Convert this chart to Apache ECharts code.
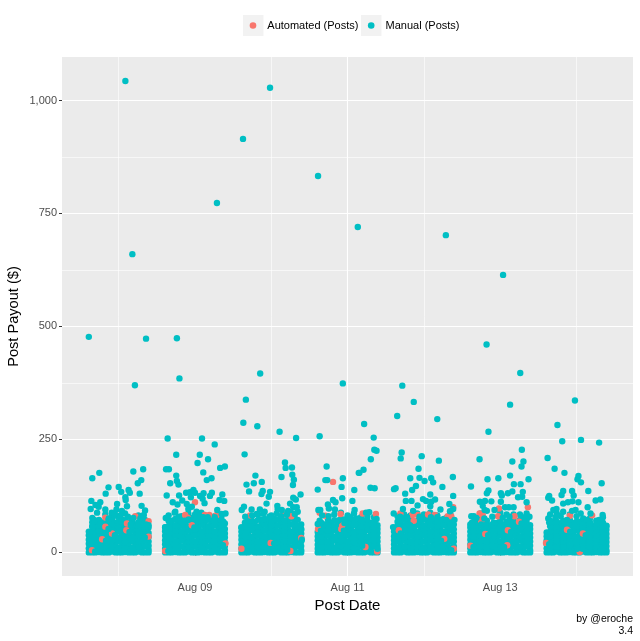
<!DOCTYPE html>
<html><head><meta charset="utf-8">
<style>html,body{margin:0;padding:0;background:#fff}#c{width:640px;height:641px}</style>
<script src="https://cdn.jsdelivr.net/npm/echarts@6/dist/echarts.min.js"></script>
</head><body><div id="c"></div>
<script>
// Points are [hours from that date's tick, payout $]; dense masses are [hours, [payouts]] columns.
const days = [8, 9, 10, 11, 12, 13, 14];
const labelledDays = [9, 11, 13];
const unlabelledDays = [8, 10, 12, 14];
const majorPayouts = [0, 250, 500, 750, 1000];
const minorPayouts = [125, 375, 625, 875];

const massAug08 = [[-9.4,[0,9,19,28,38,46]],[-7.3,[0,5,14,24,33,43,52,60,68]],[-5.2,[0,9,18,28,37,47,55,64]],[-3.1,[0,5,15,24,34,43,52,62,70]],[-1,[0,10,19,29,38,48,56,66]],[1,[0,5,14,24,33,43,53,61,73]],[3.1,[0,9,19,28,38,47,57,66]],[5.2,[0,5,15,25,34,44,53,62]],[7.3,[0,10,19,29,39,48,58,70]],[9.4,[0,6,15,24,34,43,55]]];
const massAug09 = [[-9.4,[0,8,18,27,37,47,56]],[-7.3,[0,5,14,23,33,42,52,61,70]],[-5.2,[0,10,19,29,38,48,57,66]],[-3.1,[0,6,15,25,34,44,54,63,72]],[-1,[0,9,18,28,38,47,56,65,76]],[1,[0,5,14,24,34,43,53,62,72]],[3.1,[0,10,19,29,39,48,58,68]],[5.2,[0,5,15,24,33,43,52,62,71]],[7.3,[0,9,18,27,37,47,56,66,74]],[9.4,[0,5,14,23,33,42,52,64]]];
const massAug10 = [[-9.4,[0,9,18,28,37,46,55]],[-7.3,[0,5,15,24,34,43,53,63,72]],[-5.2,[0,10,19,28,38,48,57,67]],[-3.1,[0,5,14,24,33,43,52,62,73]],[-1,[0,9,19,29,38,47,57,68]],[1,[0,5,15,25,34,44,53,62,74]],[3.1,[0,10,20,29,39,48,58,67,76]],[5.2,[0,6,15,24,33,43,53,63,72]],[7.3,[0,9,18,28,38,47,56,66,78]],[9.4,[0,5,14,24,33,42,52,62]]];
const massAug11 = [[-9.4,[0,8,17,27,36,45]],[-7.3,[0,5,14,24,33,43,52,62]],[-5.2,[0,10,19,28,38,47,57,66]],[-3.1,[0,5,15,24,34,43,53,62,70]],[-1,[0,9,19,28,38,48,57,66,73]],[1,[0,5,14,24,34,43,53,63,75]],[3.1,[0,10,19,29,38,48,58,67]],[5.2,[0,5,15,25,34,44,53,62,70]],[7.3,[0,9,19,28,38,47,57,65]],[9.4,[0,6,15,24,33,43,52,60]]];
const massAug12 = [[-9.4,[0,9,18,27,36,46,54]],[-7.3,[0,5,14,24,33,43,53,62,70]],[-5.2,[0,9,19,28,38,47,56,66,76]],[-3.1,[0,5,14,24,34,44,53,62,70]],[-1,[0,10,19,28,38,47,57,67,74]],[1,[0,5,15,24,33,43,52,62,71]],[3.1,[0,9,18,28,37,47,56,66,75]],[5.2,[0,6,15,25,34,44,53,62,72]],[7.3,[0,9,19,29,38,48,57,67,78]],[9.4,[0,5,14,24,33,42,51,62]]];
const massAug13 = [[-9.4,[0,9,18,28,37,46,55,62]],[-7.3,[0,5,15,24,33,43,52,61,69]],[-5.2,[0,10,19,29,38,47,56,65]],[-3.1,[0,5,14,24,33,42,51,60]],[-1,[0,9,18,27,37,46,55,65]],[1,[0,5,15,24,34,43,53,62]],[3.1,[0,9,19,28,37,47,56,64,71]],[5.2,[0,5,14,24,33,43,52,60]],[7.3,[0,10,19,29,38,47,57,66,74]],[9.4,[0,5,15,24,33,42,52,60]]];
const massAug14 = [[-9.4,[0,9,18,27,36,44]],[-7.3,[0,5,14,23,33,42,51,60,68]],[-5.2,[0,9,19,28,37,46,55,64]],[-3.1,[0,5,14,24,33,42,52,61,69]],[-1,[0,10,19,29,38,47,57,65]],[1,[0,5,15,24,34,43,52,60,68]],[3.1,[0,9,18,28,37,46,55,63]],[5.2,[0,5,14,24,33,42,50,58]],[7.3,[0,9,19,28,38,47,54,63]],[9.4,[0,5,14,23,32,41,50,58]]];

const overAug08 = [[-8.3,[0,11,23,34,46,57,67,76]],[-6.2,[1,13,25,37,48,59,72]],[-4.2,[0,12,22,35,45,58,66,84]],[-2.1,[2,14,26,38,50,61,73,80]],[0,[0,10,24,33,47,56,68,78]],[2,[1,13,23,36,46,60,71,86]],[4.2,[0,11,25,35,49,58,69]],[6.2,[2,12,24,37,47,59,67,82]],[8.3,[0,14,26,36,48,57,72]]];
const overAug09 = [[-8.3,[0,12,24,35,47,58,70,82]],[-6.2,[1,11,23,37,49,60,74,90]],[-4.2,[0,13,26,36,46,59,68,80]],[-2.1,[2,12,25,34,48,57,71,86,96]],[0,[0,14,24,38,50,62,74,84]],[2,[1,11,23,35,47,61,70,88]],[4.2,[0,13,26,37,49,58,72]],[6.2,[2,12,24,36,46,60,69,80]],[8.3,[0,14,25,38,50,59,73,80]]];
const overAug10 = [[-8.3,[0,11,23,36,47,58,66]],[-6.2,[2,13,25,34,49,60,70,79]],[-4.2,[0,12,24,37,46,57,72,84]],[-2.1,[1,14,26,35,48,61,74,90]],[0,[0,10,27,38,50,59,71,82]],[2,[2,13,23,34,47,60,73,96]],[4.2,[0,12,25,37,49,58,70,84]],[6.2,[1,11,24,36,46,62,75,88]],[8.3,[0,14,26,35,48,59,72,90]]];
const overAug11 = [[-8.3,[0,12,24,35,46,57,66]],[-6.2,[1,13,23,37,48,60,72]],[-4.2,[0,11,26,34,49,58,71,84]],[-2.1,[2,14,25,36,47,61,74,88]],[0,[0,12,24,38,50,59,70,82]],[2,[1,10,23,35,46,60,72,86]],[4.2,[0,13,26,37,48,57,68,78]],[6.2,[2,12,24,34,49,61,73,80]],[8.3,[0,14,25,36,47,58,68,78]]];
const overAug12 = [[-8.3,[0,11,24,36,47,59,68,80]],[-6.2,[2,13,26,34,48,60,73,84]],[-4.2,[0,12,23,37,49,58,71,82]],[-2.1,[1,14,25,35,46,61,70,86]],[0,[0,10,24,38,50,59,74,84]],[2,[2,13,26,34,47,60,72,88]],[4.2,[0,12,23,36,48,57,69,82]],[6.2,[1,14,25,37,46,61,74]],[8.3,[0,11,24,35,49,60,70,86]]];
const overAug13 = [[-8.3,[0,12,24,35,47,58,68,80]],[-6.2,[1,13,25,37,46,59,72,86]],[-4.2,[0,11,23,34,49,57,70,92]],[-2.1,[2,14,26,36,48,60,66]],[0,[0,12,24,38,46,58,70,88]],[2,[1,10,25,35,47,61,68,84]],[4.2,[0,13,23,37,50,59,70,84]],[6.2,[2,12,26,34,48,60,72,84]],[8.3,[0,14,24,36,47,58,70,86]]];
const overAug14 = [[-8.3,[0,11,23,35,46,58,70,84]],[-6.2,[2,13,25,36,48,57,68,86]],[-4.2,[0,12,24,34,47,59,70,90]],[-2.1,[1,14,26,37,46,60,72,84]],[0,[0,10,23,35,49,58,68,80]],[2,[2,13,25,36,47,57,66]],[4.2,[0,12,24,34,46,55,67,75]],[6.2,[1,14,26,37,48,58,70]],[8.3,[0,11,23,35,46,57,66,78]]];

const manualAug08 = [[2.1,1043],[4.3,660],[-9.4,477],[8.6,473],[5.1,370],[-8.3,164],[-6.1,176],[4.6,179],[7.7,184],[7.1,160],[6,153],[-3.2,144],[-4.1,130],[0,145],[.8,134],[3.1,138],[3.5,132],[6.6,130],[2.1,122],[2.2,116],[-8.6,114],[-7.3,105],[-5.8,111],[-8.8,96],[-6.8,88],[-6.3,101],[-4.2,95],[-.5,107],[-.7,95],[1,92],[2.6,102],[7.2,103],[8.3,93],[7.9,83],[2.9,79],[-1.8,79],[-3.1,75],[-7.7,72],[-8.3,58],[-5.8,68],[.5,82],[6.8,75],[9.4,60],[-2.2,88],[-1.2,85],[4.2,72],[-3.2,72],[3.8,62],[4.6,76],[8.6,62],[8.2,33],[-4,26],[-3.2,52],[3.4,45],[-1.2,38],[-7.4,2]];
const manualAug09 = [[-5.7,474],[-4.9,385],[6.9,773],[-8.6,252],[2.2,252],[6.2,239],[-5.9,216],[1.5,216],[.8,198],[4.1,206],[-9.1,184],[-8.2,184],[9.4,190],[7.9,187],[2.6,177],[-5.9,170],[-5.7,158],[-5.2,150],[-7.8,153],[3.7,160],[5.2,164],[-8.9,126],[-5,126],[-2.8,132],[-1.6,133],[-.5,138],[0,132],[-1.3,122],[1.6,125],[2.7,131],[2.4,119],[4.7,125],[5.3,132],[8.6,128],[7.7,116],[9.2,114],[-7,111],[-5.5,106],[-4,115],[-2.6,107],[-1,101],[3,109],[7,94],[-6.4,88],[-9.2,76],[-8,68],[-9.4,55],[-5.1,79],[.5,90],[1.6,79],[8.4,85],[9.6,86],[8.9,68],[-3.2,70],[-2,73],[2.6,78],[4,78],[6.2,78],[-.2,55],[-8.4,3],[8.8,16]];
const manualAug10 = [[-8.9,915],[-.4,1028],[-3.5,396],[-8,338],[-8.8,287],[-4.4,279],[2.6,267],[7.8,253],[-8.4,217],[4.3,199],[4.5,187],[6.5,188],[3.2,167],[6.6,172],[7.1,161],[6.8,149],[-5,170],[-7.8,150],[-5.5,153],[-3,156],[-7,135],[9.2,128],[-2.7,136],[-3.1,129],[-.4,134],[-.8,123],[6.9,121],[7.7,117],[-1.5,108],[-3.6,95],[-6.2,95],[-8.6,101],[-9.3,94],[1.9,103],[3.3,94],[5.9,108],[8,100],[6.9,100],[5.3,92],[-8.2,79],[-2.5,86],[-.6,79],[1.7,86],[-9.4,55],[-6,82],[-4.6,85],[3.1,80],[4.9,84],[7.4,85],[9.4,50],[.9,20],[9.6,28],[5,6]];
const manualAug11 = [[-9.3,833],[3.2,720],[-1.5,374],[-8.8,257],[-6.6,190],[-7,160],[-6.4,160],[-1.5,164],[-1.9,145],[3.5,176],[-9.4,139],[2.1,138],[-1.7,120],[1.5,114],[-4.6,116],[-3.8,111],[-6.2,106],[-9.2,94],[-8.6,94],[-5.9,97],[-4,95],[2.2,94],[.2,79],[-8.8,70],[-9.4,63],[5.2,284],[8.2,254],[8.4,227],[9.1,225],[7.3,206],[5,183],[3.7,176],[7.2,143],[8.5,142],[5.8,88],[6.8,89],[9.1,74],[8.1,66],[.7,77],[2.8,75],[4.5,70],[-6,80],[-3,70],[-1,65],[-8.4,48],[9.4,8],[-8,82],[-1.2,48],[4.6,15]];
const manualAug12 = [[-6.8,369],[-3.2,333],[-8.4,302],[4.2,295],[6.9,702],[-7,221],[-7.3,208],[-.7,213],[4.7,203],[-1.7,185],[9.1,167],[-4.3,164],[-1.4,165],[.2,158],[2.3,164],[2.9,155],[-2.5,147],[-3.7,138],[5.8,145],[-9.4,140],[-8.9,142],[-5.9,130],[2,128],[9.2,125],[-5.7,114],[-3.9,114],[-.3,118],[.7,114],[3.5,117],[2.3,112],[-2,104],[2,102],[8,107],[9.2,96],[-6.6,96],[5.2,95],[-3.4,92],[-9.5,86],[8.2,91],[-5.3,78],[-7.5,79],[-1.4,79],[7,72],[9.6,72],[-9.7,56],[-4.4,60],[-7.3,42],[4.2,78],[2.2,78],[5.4,26],[8.6,5]];
const manualAug13 = [[.9,614],[-4.3,460],[6.3,397],[3.1,327],[-3.7,267],[6.8,227],[-6.5,206],[3.8,201],[7.3,201],[6.7,190],[3.1,170],[-.6,164],[-4,162],[8.9,162],[4.3,151],[6.4,151],[-9.2,146],[-3.7,137],[-4.2,131],[.2,131],[.5,126],[2.4,131],[3.8,135],[7.1,134],[6.9,123],[5.6,122],[8.3,111],[-6.4,112],[-4.8,114],[-2.8,113],[.2,112],[1.5,100],[2.7,100],[4.2,100],[-5.5,103],[-4.9,94],[-1.8,94],[-9.1,80],[-2.5,79],[.8,77],[2.9,79],[8,79],[9.2,79],[-7.5,76],[-5,75],[-4.6,60],[-3.8,38],[6.7,64],[-8.9,66],[-6,62],[3.4,45],[1.2,12],[-8.4,12]];
const manualAug14 = [[-.5,336],[-6,282],[-4.5,246],[1.4,249],[7.1,243],[-9.1,209],[-6.9,185],[-3.8,176],[.6,169],[.3,162],[1.4,155],[7.9,153],[3.7,136],[-4.2,136],[-4.7,127],[-1.4,136],[-.9,126],[-8.6,125],[-8.9,121],[-7.7,115],[7.5,117],[6,115],[-4.2,108],[-2.7,111],[-1.3,113],[.6,111],[3.5,100],[-6.3,96],[-7.3,94],[-1.4,92],[-.3,94],[4.4,86],[8.2,83],[-8.9,75],[-8.6,66],[1.3,86],[2.1,75],[3.1,72],[7.1,72],[9.4,59],[-6.6,78],[-5,80],[-3,72],[4.2,63],[6.2,63],[-8.6,18],[1.9,8],[.2,8],[2.9,38],[-2,46]];

const autoAug08 = [[-4.2,77],[2.6,64],[5.2,80],[9.4,69],[9.4,35],[-5.2,29],[-4.2,57],[2.4,49],[-2.1,42],[-8.4,5]];
const autoAug09 = [[0,111],[-3.1,83],[-2.3,77],[3.1,83],[4.5,83],[6.8,83],[-1,60],[-9.4,3],[9.6,20]];
const autoAug10 = [[3.6,84],[6.3,80],[-6.7,82],[-.2,21],[9.4,32],[-9.4,8],[6,3]];
const autoAug11 = [[-4.6,156],[-2.2,85],[-7,81],[-8.8,88],[-9.3,52],[-1.7,60],[4.7,86],[8.9,85],[9.3,2],[-2,52],[5.6,12]];
const autoAug12 = [[9.2,100],[-7.4,86],[-3.7,83],[-1.9,83],[1.3,84],[3.4,83],[7.5,80],[8.6,80],[-3.2,70],[-7.9,49],[6.4,30],[9.4,8]];
const autoAug13 = [[-.4,97],[8.7,100],[-.7,80],[4.5,80],[-5.5,83],[-5.7,72],[-6.5,86],[-4.7,41],[5.9,68],[2.4,49],[2.2,16],[-6,68],[-9.4,15]];
const autoAug14 = [[-2.1,81],[4.9,82],[-9.6,21],[1,5],[1,1],[2,42],[-3,50]];

const massByDay = [massAug08, massAug09, massAug10, massAug11, massAug12, massAug13, massAug14];
const overByDay = [overAug08, overAug09, overAug10, overAug11, overAug12, overAug13, overAug14];
const manualByDay = [manualAug08, manualAug09, manualAug10, manualAug11, manualAug12, manualAug13, manualAug14];
const autoByDay = [autoAug08, autoAug09, autoAug10, autoAug11, autoAug12, autoAug13, autoAug14];

const seriesNames = ['Automated (Posts)', 'Manual (Posts)'];
const footerLines = ['by @eroche', '3.4'];
const xTitle = 'Post Date', yTitle = 'Post Payout ($)';

const FONT = '"Liberation Sans", Arial, sans-serif';
const RED = '#F8766D', TEAL = '#00BFC4';
const toXY = (d, p) => [days[d] + p[0] / 24, p[1]];
const colsToPoints = byDay => byDay.flatMap((cols, d) => cols.flatMap(c => c[1].map(v => toXY(d, [c[0], v]))));
const massPoints = colsToPoints(massByDay);
const overPoints = colsToPoints(overByDay);
const manualPoints = manualByDay.flatMap((a, d) => a.map(p => toXY(d, p)));
const autoPoints = autoByDay.flatMap((a, d) => a.map(p => toXY(d, p)));

const xMin = 7.257, xMax = 14.74, yMin = -52.2, yMax = 1096.2;
const hidden = {axisLine:{show:false}, axisTick:{show:false}, axisLabel:{show:false}};
const dot = (name, data, color, z) => ({type:'scatter', name, data, symbolSize:6.4, z,
  itemStyle:{color, opacity:1}, silent:true, large:false, animation:false});

const chart = echarts.init(document.getElementById('c'), null, {renderer:'canvas'});
chart.setOption({
  animation:false, backgroundColor:'#fff',
  textStyle:{fontFamily:FONT},
  grid:{left:62, right:7, top:57, bottom:65, show:true, backgroundColor:'#EBEBEB', borderWidth:0, containLabel:false, outerBoundsMode:'none'},
  xAxis:[
    {type:'value', min:xMin, max:xMax, position:'bottom', name:xTitle, nameLocation:'middle', nameGap:22,
     nameTextStyle:{fontSize:15, color:'#000', fontFamily:FONT},
     axisLine:{show:false},
     axisTick:{show:true, length:3, customValues:labelledDays, lineStyle:{color:'#333', width:1}},
     axisLabel:{show:true, customValues:labelledDays, color:'#4D4D4D', fontSize:11, fontFamily:FONT, margin:6,
       formatter:v => 'Aug ' + String(v).padStart(2,'0'), hideOverlap:false},
     splitLine:{show:true, showMinLine:false, showMaxLine:false, lineStyle:{color:'#fff', width:1.1}}},
    Object.assign({type:'value', min:xMin, max:xMax, position:'top', splitLine:{show:true, lineStyle:{color:'#fff', width:0.6}}}, hidden,
      {axisTick:{show:false, customValues:unlabelledDays}, axisLabel:{show:false, customValues:unlabelledDays}})
  ],
  yAxis:[
    {type:'value', min:yMin, max:yMax, position:'left', name:yTitle, nameLocation:'middle', nameGap:41, nameRotate:90, nameMoveOverlap:false,
     nameTextStyle:{fontSize:14.6, color:'#000', fontFamily:FONT},
     axisLine:{show:false},
     axisTick:{show:true, length:3, customValues:majorPayouts, lineStyle:{color:'#333', width:1}},
     axisLabel:{show:true, customValues:majorPayouts, color:'#4D4D4D', fontSize:11, fontFamily:FONT, margin:5,
       formatter:v => v.toLocaleString('en-US')},
     splitLine:{show:true, lineStyle:{color:'#fff', width:1.1}}},
    Object.assign({type:'value', min:yMin, max:yMax, position:'right', splitLine:{show:true, lineStyle:{color:'#fff', width:0.6}}}, hidden,
      {axisTick:{show:false, customValues:minorPayouts}, axisLabel:{show:false, customValues:minorPayouts}})
  ],
  legend:{show:true, left:249.7, top:20, padding:0, icon:'circle', itemWidth:6.6, itemHeight:6.6, itemGap:9.5, selectedMode:false,
    data:seriesNames, z:10,
    textStyle:{fontSize:11, color:'#000', fontFamily:FONT, padding:[0,0,0,6]}},
  series:[
    dot(seriesNames[1], massPoints, TEAL, 2),
    dot(seriesNames[1], overPoints, TEAL, 3),
    dot(seriesNames[0], autoPoints, RED, 4),
    dot(seriesNames[1], manualPoints, TEAL, 5)
  ],
  graphic:{elements:[
    {type:'rect', silent:true, z:1, shape:{x:243, y:15, width:20.5, height:21}, style:{fill:'#F2F2F2'}},
    {type:'rect', silent:true, z:1, shape:{x:361, y:15, width:20.5, height:21}, style:{fill:'#F2F2F2'}},
    {type:'text', silent:true, style:{x:633, y:619, text:footerLines[0], textAlign:'right', textVerticalAlign:'middle', fontSize:10.5, fontFamily:FONT, fill:'#000'}},
    {type:'text', silent:true, style:{x:633, y:631, text:footerLines[1], textAlign:'right', textVerticalAlign:'middle', fontSize:10.5, fontFamily:FONT, fill:'#000'}}
  ]}
});
</script></body></html>
